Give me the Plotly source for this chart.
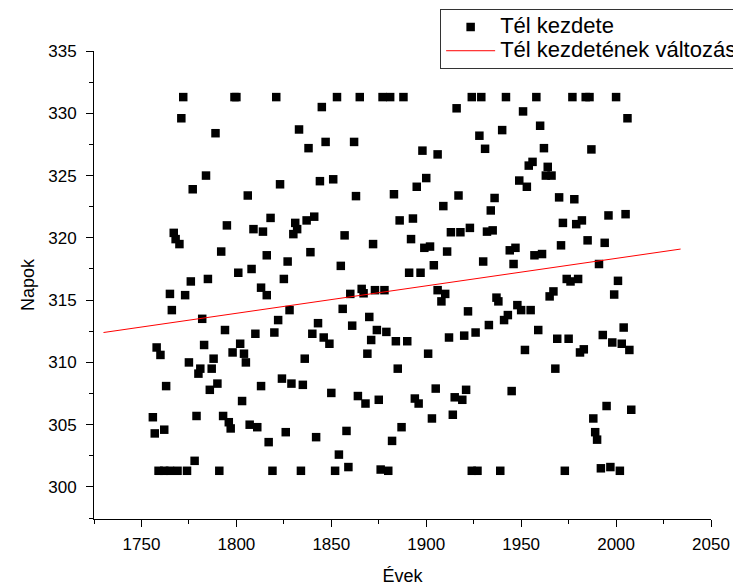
import plotly.graph_objects as go

# ---- data ----
years = [
    # top row (cap value)
    1772, 1799, 1800, 1821, 1853, 1865, 1877, 1881, 1888, 1924, 1929, 1942, 1958, 1977, 1984, 1986, 2000,
    # 1756-1826 block
    1771, 1789, 1784, 1777, 1823, 1806, 1818, 1795, 1809, 1814, 1767, 1768, 1770, 1792, 1816, 1808,
    1801, 1785, 1776, 1825, 1765, 1773, 1813, 1816,
    1766, 1782, 1822, 1794, 1810, 1820, 1758, 1760, 1783, 1802, 1798, 1804, 1805, 1775, 1788, 1781,
    1780, 1787, 1790, 1786, 1763, 1824, 1813, 1803, 1756, 1757, 1762, 1779, 1793, 1796, 1797, 1807,
    1811, 1826, 1817, 1778, 1759, 1762, 1765, 1769, 1774, 1791, 1819,
    # 1827-1909 block
    1845, 1833, 1838, 1847, 1862, 1898, 1906, 1844, 1851, 1863, 1883, 1895, 1900, 1909, 1831, 1832,
    1830, 1837, 1841, 1857, 1872, 1886, 1893, 1892, 1899, 1902, 1839, 1827, 1855, 1904, 1891, 1897,
    1860, 1866, 1867, 1873, 1878, 1906,
    1828, 1856, 1870, 1843, 1861, 1840, 1846, 1849, 1874, 1879, 1871, 1884, 1890, 1901, 1869, 1836,
    1885, 1829, 1835, 1850, 1864, 1868, 1875, 1894, 1896, 1905, 1903, 1887, 1882, 1842, 1858, 1854,
    1834, 1852, 1859, 1876, 1880,
    # 1910-1987 block
    1916, 1951, 1960, 1928, 1940, 1931, 1962, 1987, 1956, 1954, 1964, 1963, 1966, 1949, 1953, 1917,
    1936, 1934, 1970, 1978, 1913, 1918, 1923, 1932, 1935, 1972, 1979, 1982, 1911, 1944, 1947, 1971,
    1985, 1930, 1946, 1957, 1961, 1974, 1980, 1976, 1910, 1937, 1967, 1965,
    1908, 1938, 1922, 1948, 1950, 1955, 1943, 1941, 1933, 1912, 1920, 1926, 1959, 1969, 1975, 1952,
    1981, 1983, 1968, 1915, 1919, 1921, 1945, 1914, 1924, 1927, 1939, 1973,
    # 1988-2008 block
    2006, 1996, 2005, 1994, 1991, 2001, 1999, 2004, 1993, 1998, 2003, 2007, 1995, 2008, 1988, 1989,
    1990, 1992, 1997, 2002,
]

winter_start = [
    331.3, 331.3, 331.3, 331.3, 331.3, 331.3, 331.3, 331.3, 331.3, 331.3, 331.3, 331.3, 331.3, 331.3, 331.3, 331.3, 331.3,
    329.6, 328.4, 325.0, 323.9, 324.3, 323.4, 321.6, 321.0, 320.7, 320.5, 320.4, 319.9, 319.5, 318.9, 318.6, 317.5,
    317.2, 316.7, 316.5, 316.7, 315.5, 315.4, 316.0, 315.4,
    314.2, 313.5, 313.4, 312.6, 312.3, 312.4, 311.2, 310.6, 311.4, 311.5, 310.8, 310.7, 310.0, 310.0, 310.3, 309.5,
    309.1, 309.5, 308.3, 307.8, 308.1, 308.7, 308.1, 306.9, 305.6, 304.3, 304.6, 305.7, 305.7, 305.2, 304.7, 305.0,
    304.8, 304.4, 303.6, 302.1, 301.3, 301.3, 301.3, 301.3, 301.3, 301.3, 301.3,
    330.5, 328.7, 327.2, 327.7, 327.7, 327.0, 326.7, 324.55, 324.7, 323.35, 323.5, 324.1, 324.8, 322.55, 321.2, 320.7,
    320.3, 321.4, 321.7, 320.2, 319.5, 321.4, 321.55, 319.9, 319.2, 319.3, 318.85, 318.1, 317.75, 317.8, 317.2, 317.2,
    315.5, 315.9, 315.55, 315.8, 315.8, 315.8,
    314.2, 314.3, 313.65, 313.15, 312.95, 312.3, 312.0, 311.5, 312.6, 312.45, 311.8, 311.7, 311.7, 310.7, 310.7, 310.3,
    309.5, 308.3, 308.2, 307.55, 307.3, 306.7, 307.0, 307.1, 306.7, 307.9, 305.5, 304.8, 303.7, 304.0, 304.5, 302.6,
    301.3, 301.3, 301.6, 301.4, 301.3,
    330.4, 330.15, 329.0, 328.2, 328.65, 327.15, 327.2, 327.1, 326.1, 325.8, 325.7, 325.0, 325.0, 324.6, 324.1, 323.4,
    323.2, 322.2, 323.25, 323.1, 320.45, 320.45, 320.8, 320.5, 320.6, 321.2, 321.1, 321.4, 318.9, 319.0, 319.2, 319.4,
    319.8, 318.1, 317.9, 318.6, 318.7, 316.7, 316.7, 316.5, 315.5, 315.2, 315.7, 315.3,
    314.9, 314.9, 314.1, 314.6, 314.2, 314.2, 313.8, 313.4, 313.0, 312.0, 312.15, 312.4, 312.6, 311.9, 311.9, 311.0,
    310.8, 311.05, 309.5, 307.2, 307.0, 307.8, 307.7, 305.8, 301.3, 301.3, 301.3, 301.3,
    329.6, 321.8, 321.9, 319.6, 317.9, 316.55, 315.45, 312.8, 312.2, 311.6, 311.5, 311.0, 306.5, 306.2, 305.5, 304.4,
    303.8, 301.5, 301.6, 301.3,
]

trend_years = [1730, 2034]
trend_values = [312.4, 319.1]

x_ticks = [1750, 1800, 1850, 1900, 1950, 2000, 2050]
y_ticks = [300, 305, 310, 315, 320, 325, 330, 335]

FONT = "Arial, Liberation Sans, sans-serif"
LEGEND_TEXT = '<span style="font-size:22px">{}</span>'

fig = go.Figure()
fig.add_trace(go.Scatter(
    x=years, y=winter_start, mode="markers", name=LEGEND_TEXT.format("Tél kezdete"),
    marker=dict(symbol="square", size=8.5, color="black", line=dict(width=0)),
))
fig.add_trace(go.Scatter(
    x=trend_years, y=trend_values, mode="lines",
    name=LEGEND_TEXT.format("Tél kezdetének változása"),
    line=dict(color="red", width=1),
))

axis_common = dict(
    showline=True, linecolor="black", linewidth=1, showgrid=False, zeroline=False,
    ticks="outside", ticklen=7, tickwidth=1, tickcolor="black",
    tickfont=dict(family=FONT, size=17, color="black"),
    automargin=False,
)

fig.update_layout(
    width=733, height=588,
    margin=dict(l=94, r=22, t=51, b=69, autoexpand=False),
    paper_bgcolor="white", plot_bgcolor="white",
    font=dict(family=FONT, color="black"),
    xaxis=dict(
        range=[1725, 2050], tickvals=x_ticks,
        minor=dict(dtick=25, tick0=1725, ticklen=4, ticks="outside", tickcolor="black"),
        title=dict(text="Évek", font=dict(family=FONT, size=18), standoff=15),
        ticklabelstandoff=3,
        **axis_common,
    ),
    yaxis=dict(
        range=[297.43, 335], tickvals=y_ticks,
        minor=dict(dtick=2.5, tick0=300, ticklen=4, ticks="outside", tickcolor="black"),
        title=dict(text="Napok", font=dict(family=FONT, size=18), standoff=8),
        ticklabelstandoff=6,
        **axis_common,
    ),
    legend=dict(
        x=0.561, y=1.0897, xanchor="left", yanchor="top",
        bgcolor="white", bordercolor="#333333", borderwidth=1,
        font=dict(family=FONT, size=16, color="black"),
        itemwidth=49, tracegroupgap=0,
    ),
    showlegend=True,
)

fig.write_html("out.html")
